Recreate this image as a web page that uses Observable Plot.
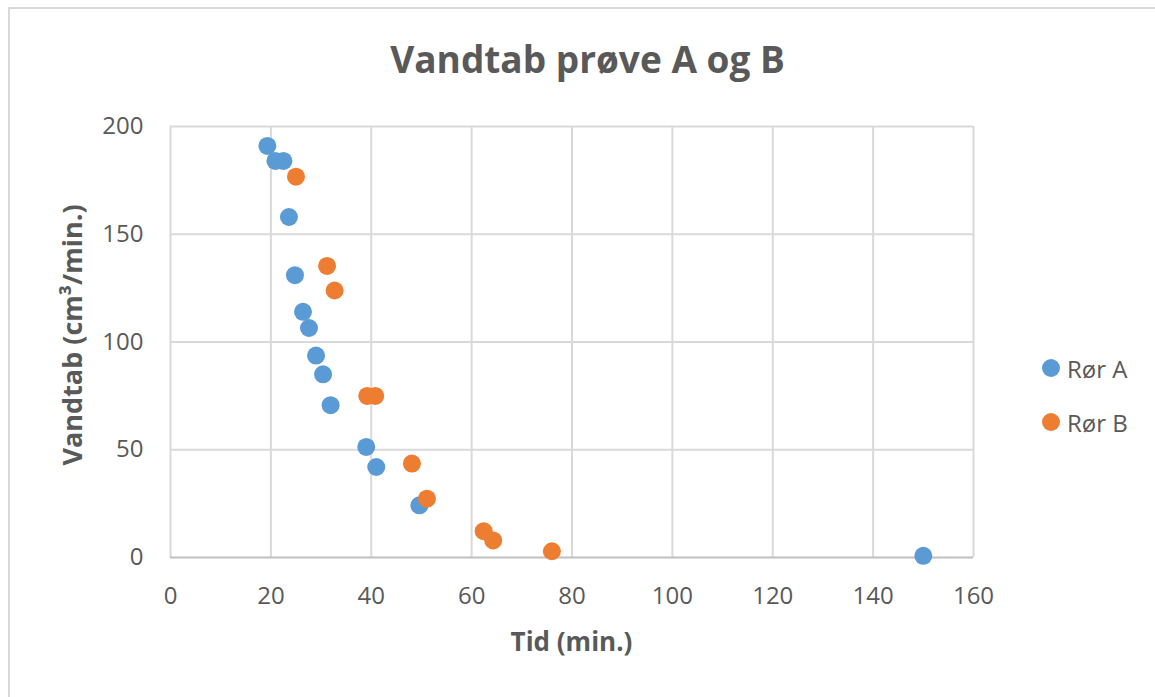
<!DOCTYPE html>
<html>
<head>
<meta charset="utf-8">
<script src="https://cdn.jsdelivr.net/npm/d3@7"></script>
<script src="https://cdn.jsdelivr.net/npm/@observablehq/plot@0.6"></script>
<style>
  html, body { margin: 0; padding: 0; background: #fff; }
  #wrap { position: relative; width: 1155px; height: 697px; overflow: hidden; font-family: "Open Sans", sans-serif; color: #595959; }
  #frame { position: absolute; left: 8px; top: 7px; width: 1160px; height: 700px; border: 2px solid #d9d9d9; box-sizing: border-box; }
  #title { position: absolute; left: 0; width: 1175px; top: 33px; text-align: center; font-size: 37px; font-weight: bold; line-height: normal; }
  #xlabel { position: absolute; left: 170px; width: 803px; top: 623px; text-align: center; font-size: 26px; font-weight: bold; line-height: normal; }
  #ylabel { position: absolute; left: 71px; top: 335px; transform: translate(-50%, -50%) rotate(-90deg); white-space: nowrap; font-size: 27px; font-weight: bold; line-height: normal; }
  #legend { position: absolute; left: 1042px; top: 351px; font-size: 24px; }
  .item { display: flex; align-items: center; height: 34px; margin-bottom: 20px; }
  .sw { width: 18px; height: 18px; border-radius: 50%; margin-right: 7px; }
  #chart { position: absolute; left: 0; top: 0; }
</style>
</head>
<body>
<div id="wrap">
  <div id="frame"></div>
  <div id="chart"></div>
  <div id="title">Vandtab prøve A og B</div>
  <div id="xlabel">Tid (min.)</div>
  <div id="ylabel">Vandtab (cm³/min.)</div>
  <div id="legend"></div>
</div>
<script>
const seriesNames = ["Rør A", "Rør B"];
const seriesColors = ["#5b9bd5", "#ed7d31"];
const aTime = [19.3, 20.9, 22.5, 23.6, 24.8, 26.4, 27.6, 29.0, 30.4, 31.9, 39.0, 41.0, 49.6, 150];
const aLoss = [191, 184, 184, 158, 131, 114, 106.5, 93.7, 85, 70.7, 51.3, 42, 24.2, 0.8];
const bTime = [25.0, 31.2, 32.7, 39.2, 40.8, 48.1, 51.1, 62.4, 64.3, 76.0];
const bLoss = [176.7, 135.3, 123.9, 75, 75, 43.6, 27.3, 12.2, 7.9, 2.9];
const xTicks = [0, 20, 40, 60, 80, 100, 120, 140, 160];
const yTicks = [0, 50, 100, 150, 200];

const data = [
  ...aTime.map((t, i) => ({ series: seriesNames[0], time: t, loss: aLoss[i] })),
  ...bTime.map((t, i) => ({ series: seriesNames[1], time: t, loss: bLoss[i] }))
];

const chart = Plot.plot({
  width: 1155,
  height: 697,
  marginLeft: 170,
  marginRight: 182,
  marginTop: 126,
  marginBottom: 140,
  style: { fontFamily: "'Open Sans', sans-serif", fontSize: "24px", color: "#595959", background: "transparent" },
  x: { domain: [0, 160], label: null },
  y: { domain: [0, 200], label: null },
  color: { domain: seriesNames, range: seriesColors },
  marks: [
    Plot.ruleX(xTicks, { stroke: "#d9d9d9", strokeWidth: 2, strokeOpacity: 1 }),
    Plot.ruleY(yTicks.filter(d => d > 0), { stroke: "#d9d9d9", strokeWidth: 2, strokeOpacity: 1 }),
    Plot.ruleY([0], { stroke: "#bfbfbf", strokeWidth: 2, strokeOpacity: 1 }),
    Plot.axisX({ ticks: xTicks, tickSize: 0, tickPadding: 29, label: null, fill: "#595959" }),
    Plot.axisY({ ticks: yTicks, tickSize: 0, tickPadding: 27, label: null, fill: "#595959" }),
    Plot.dot(data, { x: "time", y: "loss", fill: "series", r: 9, stroke: null })
  ]
});
document.getElementById("chart").appendChild(chart);

const legend = document.getElementById("legend");
seriesNames.forEach((n, i) => {
  const it = document.createElement("div");
  it.className = "item";
  it.innerHTML = `<span class="sw" style="background:${seriesColors[i]}"></span><span>${n}</span>`;
  legend.appendChild(it);
});
</script>
</body>
</html>
